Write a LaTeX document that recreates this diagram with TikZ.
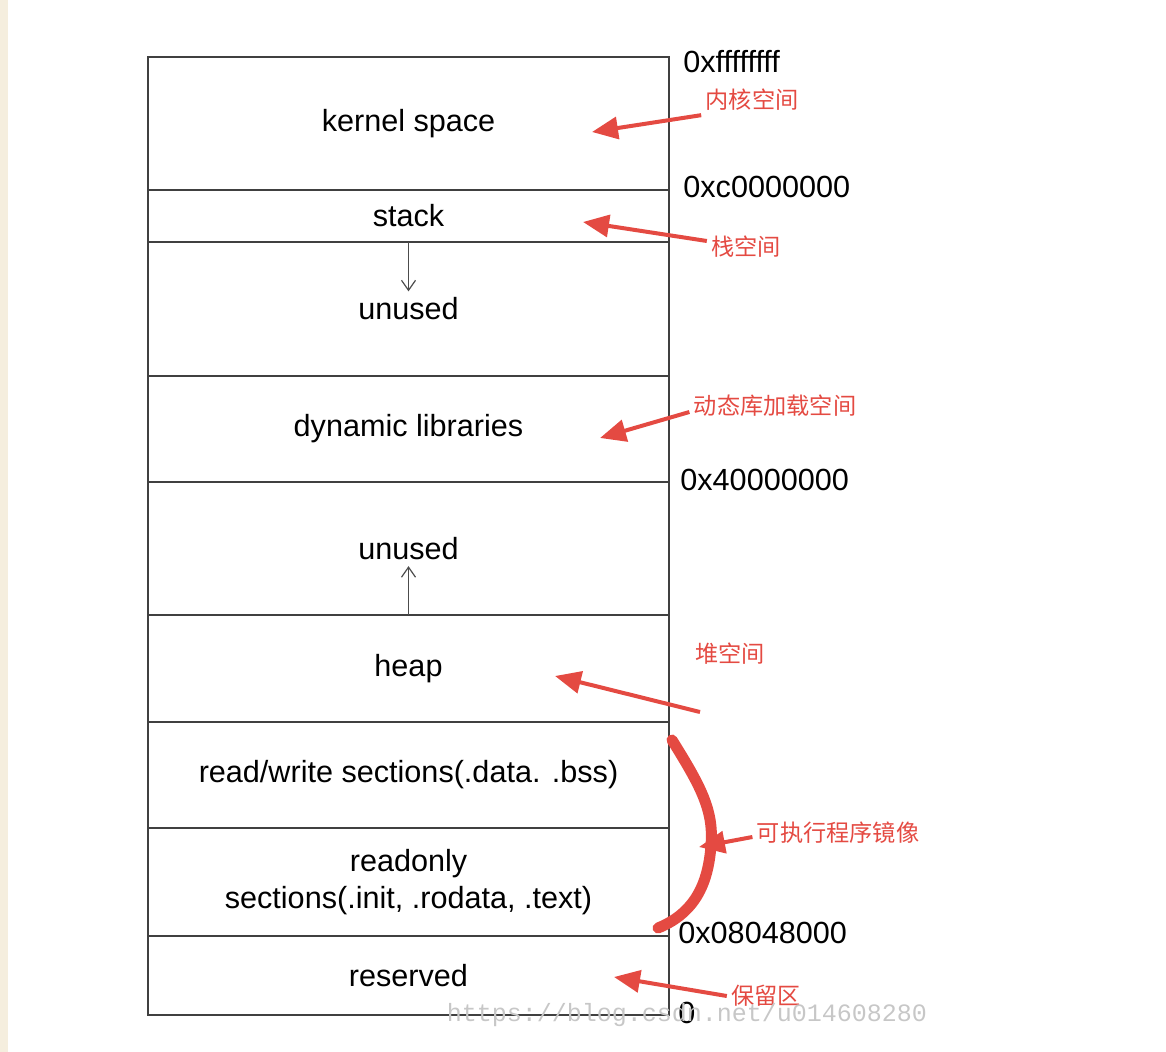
\documentclass[tikz,border=0pt]{standalone}
\usepackage{fontspec}
\setmainfont{Liberation Sans}
\newfontfamily\cjk{Noto Sans CJK SC}
\newfontfamily\wmfont{Liberation Mono}
\usetikzlibrary{positioning,arrows.meta}
\definecolor{markred}{RGB}{228,74,66}
\definecolor{edgebg}{RGB}{245,238,222}
\tikzset{
  region/.style={draw=black!75, line width=0.8pt, minimum width=260.5pt, outer sep=0pt, inner sep=3pt, align=center, font=\fontsize{15.3}{18.5}\selectfont},
  memtext/.style={inner sep=3pt, font=\fontsize{15.3}{18.5}\selectfont},
  addr/.style={anchor=west, inner sep=0pt, font=\fontsize{15.3}{18.5}\selectfont},
  note/.style={text=markred, inner sep=2pt, font=\cjk\fontsize{11.6}{14}\selectfont},
  pointer/.style={draw=markred, line width=2pt, -{Triangle[length=13pt,width=11pt]}},
  growline/.style={draw=black!70, line width=0.6pt, -{Straight Barb[length=5pt,width=7pt]}},
}
\begin{document}
\begin{tikzpicture}[x=0.5pt,y=-0.5pt]
\useasboundingbox (0,0) rectangle (1166,1052);
\fill[edgebg] (0,0) rectangle (8,1052);

% address space, top to bottom
\node[region, minimum height=66.5pt] (kernel) at (408.5,123.5) {kernel space};
\node[region, minimum height=26pt, below=0pt of kernel] (stack) {stack};
\node[region, minimum height=67pt, below=0pt of stack] (gapA) {};
\node[region, minimum height=53pt, below=0pt of gapA] (dynlib) {dynamic libraries};
\node[region, minimum height=66.5pt, below=0pt of dynlib] (gapB) {};
\node[region, minimum height=53.5pt, below=0pt of gapB] (heap) {heap};
\node[region, minimum height=53pt, below=0pt of heap] (rwsec) {read/write sections(.data. .bss)};
\node[region, minimum height=54pt, below=0pt of rwsec] (rosec) {readonly\\sections(.init, .rodata, .text)};
\node[region, minimum height=39.5pt, below=0pt of rosec] (reserved) {reserved};

\node[memtext] (gapAtxt) at (gapA) {unused};
\node[memtext] (gapBtxt) at (gapB) {unused};
\draw[growline] (stack.south) -- (gapAtxt.north);
\draw[growline] (heap.north) -- (gapBtxt.south);

% addresses
\node[addr, xshift=7pt, yshift=-2.5pt] (a1) at (kernel.north east) {0xffffffff};
\node[addr, xshift=7pt, yshift=1.5pt] (a2) at (kernel.south east) {0xc0000000};
\node[addr, xshift=5.5pt, yshift=1pt] (a3) at (dynlib.south east) {0x40000000};
\node[addr, xshift=4.5pt, yshift=1.5pt] (a4) at (rosec.south east) {0x08048000};
\node[addr, xshift=4.5pt, yshift=1pt] (a5) at (reserved.south east) {0};

% red notes
\node[note] (kernnote) at (752,100) {内核空间};
\node[note] (stacknote) at (746,247) {栈空间};
\node[note] (dynnote) at (775,406) {动态库加载空间};
\node[note] (heapnote) at (730,654) {堆空间};
\node[note] (imgnote) at (838,833) {可执行程序镜像};
\node[note] (resnote) at (766,996) {保留区};

\coordinate (kernhead) at (592,132);
\coordinate (stackhead) at (583,222);
\coordinate (dynhead) at (600,438);
\coordinate (heaptail) at (700,712);
\coordinate (heaphead) at (555,676);
\coordinate (imghead) at (699,847);
\coordinate (reshead) at (614,977);
\coordinate (imgtop) at (672,740);
\coordinate (imgmid) at (711,845);
\coordinate (imgbot) at (658,928);

\draw[pointer] (kernnote.south west) -- (kernhead);
\draw[pointer] ([yshift=3pt]stacknote.west) -- (stackhead);
\draw[pointer] ([yshift=-3pt]dynnote.west) -- (dynhead);
\draw[pointer] (heaptail) -- (heaphead);
\draw[markred, line width=5.5pt, line cap=round]
  (imgtop) .. controls (700,785) and (714,810) .. (imgmid)
  .. controls (708,890) and (690,915) .. (imgbot);
\draw[pointer] ([yshift=-2pt]imgnote.west) -- (imghead);
\draw[pointer] (resnote.west) -- (reshead);

% watermark
\node[text=black!22, inner sep=0pt, font=\wmfont\fontsize{12.5}{14}\selectfont] (wmark) at (687,1015) {https://blog.csdn.net/u014608280};
\end{tikzpicture}
\end{document}
